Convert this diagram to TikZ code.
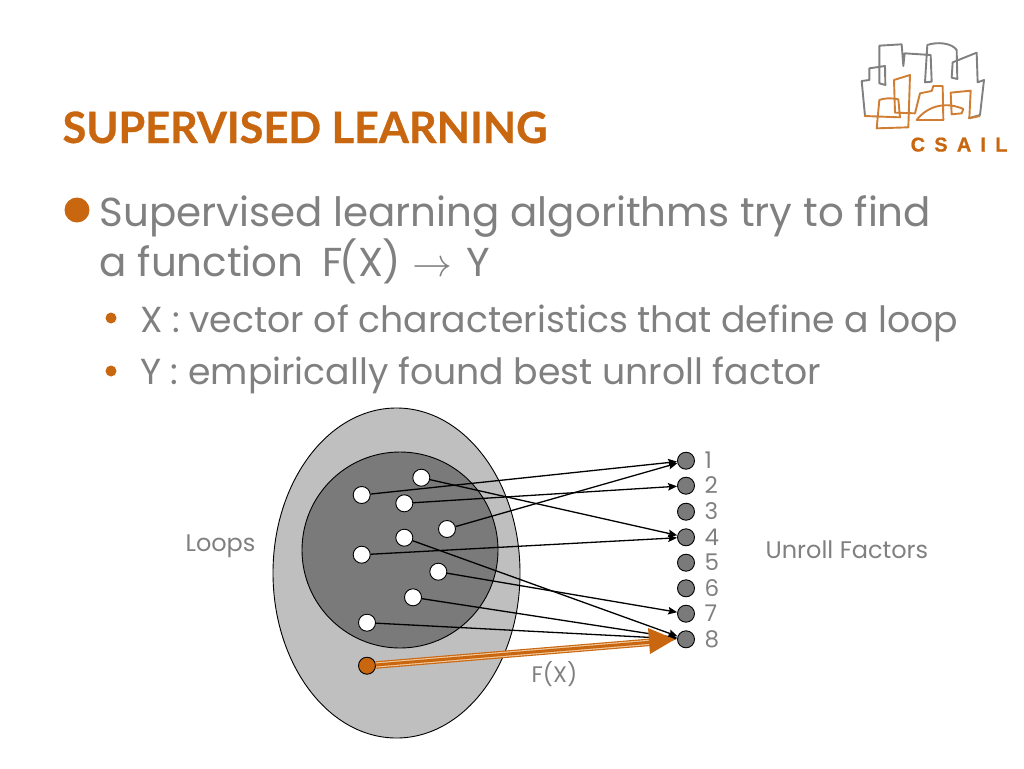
\documentclass[tikz,border=0pt]{standalone}
\usepackage{fontspec}
\setmainfont{Poppins}
\newfontfamily\titlefont[BoldFeatures={FakeBold=0.7}]{Lato}
\newfontfamily\logofont[LetterSpace=46,BoldFeatures={FakeBold=0.8}]{Liberation Sans}
\usetikzlibrary{arrows.meta}
\definecolor{csailorange}{HTML}{C8670F}
\definecolor{bodygray}{HTML}{808080}
\definecolor{outergray}{HTML}{BFBFBF}
\definecolor{innergray}{HTML}{7A7A7A}
\definecolor{palepeach}{HTML}{F2C79A}
\tikzset{
  loopdot/.style={circle,draw=black,line width=0.9pt,fill=white,minimum size=17pt,inner sep=0pt},
  factordot/.style={circle,draw=black,line width=0.9pt,fill=innergray,minimum size=17pt,inner sep=0pt},
  bodytext/.style={anchor=base west,inner sep=0pt,text=bodygray},
  smalltext/.style={anchor=base west,inner sep=0pt,text=bodygray,font=\fontsize{24}{24}\selectfont},
  factortext/.style={anchor=base west,inner sep=0pt,text=bodygray,font=\fontsize{23}{23}\selectfont},
}
\begin{document}
\begin{tikzpicture}[x=1pt,y=-1pt,->,>={Stealth[length=9pt,width=7.5pt,inset=1.5pt]},line width=1.3pt]

  \useasboundingbox (0,0) rectangle (1024,768);

  \node[bodytext,text=csailorange,font=\titlefont\bfseries\fontsize{43.2}{43.2}\selectfont] (title) at (62,143) {SUPERVISED LEARNING};

  \begin{scope}[-,line width=1.9pt,line join=round,xshift=840pt,yshift=-30pt,x=0.3333pt,y=-0.3333pt]
    \draw[gray] (75,258) -- (65,153) -- (88,150) -- (88,115) -- (135,108) -- (136,165) -- (118,160) -- (118,47)
      -- (185,43) -- (190,108) -- (194,70) -- (272,75) -- (275,155) -- (255,157) -- (262,45)
      .. controls (290,35) and (335,38) .. (350,60) -- (352,147) -- (335,143) -- (338,97) -- (410,68)
      -- (413,157) -- (432,150) -- (420,255) -- (385,265);
    \draw[csailorange!85!white] (72,258) -- (180,262) -- (175,208) .. controls (150,203) and (130,205) .. (118,210)
      -- (110,295) -- (205,292) -- (210,135) -- (162,150) -- (165,248) -- (225,250) -- (240,190)
      -- (275,183) -- (280,168) -- (308,168) -- (310,270) -- (230,270)
      .. controls (265,225) and (320,215) .. (370,237) -- (365,250) -- (335,253) -- (332,188)
      -- (392,182) -- (388,265) -- (420,258);
  \end{scope}
  \node[anchor=base west,inner sep=0pt,text=csailorange,font=\logofont\bfseries\fontsize{20}{20}\selectfont] (logo) at (910,151.5) {CSAIL};

  \fill[csailorange] (77,210) circle (12.5pt);
  \node[bodytext,font=\fontsize{40.4}{40.4}\selectfont] (line1) at (99,226) {Supervised learning algorithms try to find};
  \node[bodytext,font=\fontsize{40.4}{40.4}\selectfont] (line2) at (99,276.7) {a function\hspace{8pt} F\kern-3pt(X\kern-1pt)\hspace{12pt}\scalebox{1.6}{$\rightarrow$}\hspace{14pt}Y};
  \fill[csailorange] (111,318) circle (5.5pt);
  \node[bodytext,font=\fontsize{36.2}{36.2}\selectfont] (line3) at (139.5,332) {X : vector of characteristics that define a loop};
  \fill[csailorange] (111,371) circle (5.5pt);
  \node[bodytext,font=\fontsize{36.2}{36.2}\selectfont] (line4) at (139.5,384.5) {Y : empirically found best unroll factor};

  \draw[-,fill=outergray,line width=0.9pt] (396.5,573) ellipse (123.5pt and 165pt);
  \draw[-,fill=innergray,line width=0.9pt] (400,550) circle (98pt);

  \node[loopdot] (a) at (361.7,495) {};
  \node[loopdot] (b) at (421.3,477.7) {};
  \node[loopdot] (c) at (404.3,503.3) {};
  \node[loopdot] (d) at (447,529) {};
  \node[loopdot] (e) at (404.3,537.7) {};
  \node[loopdot] (f) at (361.7,554.7) {};
  \node[loopdot] (g) at (438.3,571.7) {};
  \node[loopdot] (h) at (413,597.3) {};
  \node[loopdot] (i) at (367,622.7) {};

  \foreach \n/\y in {1/460.7,2/485.7,3/511.7,4/537.3,5/562.7,6/588.3,7/613.7,8/639.3} {
    \node[factordot] (f\n) at (686,\y) {};
    \node[factortext] (t\n) at (704,\y+8) {\n};
  }

  \path (a) edge (f1)
        (b) edge (f4)
        (c) edge (f2)
        (d) edge (f1)
        (f) edge (f4)
        (g) edge (f7)
        (h) edge (f8)
        (i) edge (f8);

  \node[loopdot,fill=csailorange] (j) at (367,665.7) {};
  \draw[-,csailorange,line width=7.5pt,shorten >=25pt] (j) -- (f8);
  \draw[-,palepeach,line width=5.2pt,shorten >=25pt] (j) -- (f8);
  \draw[-,csailorange,line width=3pt,shorten >=25pt] (j) -- (f8);
  \fill[csailorange] (648,628) -- (675,639.3) -- (650,654) -- cycle;
  \path (e) edge (f8);

  \node[smalltext] (loops) at (185,551) {Loops};
  \node[smalltext] (unroll) at (765,558) {Unroll Factors};
  \node[smalltext,font=\fontsize{22.5}{22.5}\selectfont] (fx) at (531,682) {F(X)};
\end{tikzpicture}
\end{document}
